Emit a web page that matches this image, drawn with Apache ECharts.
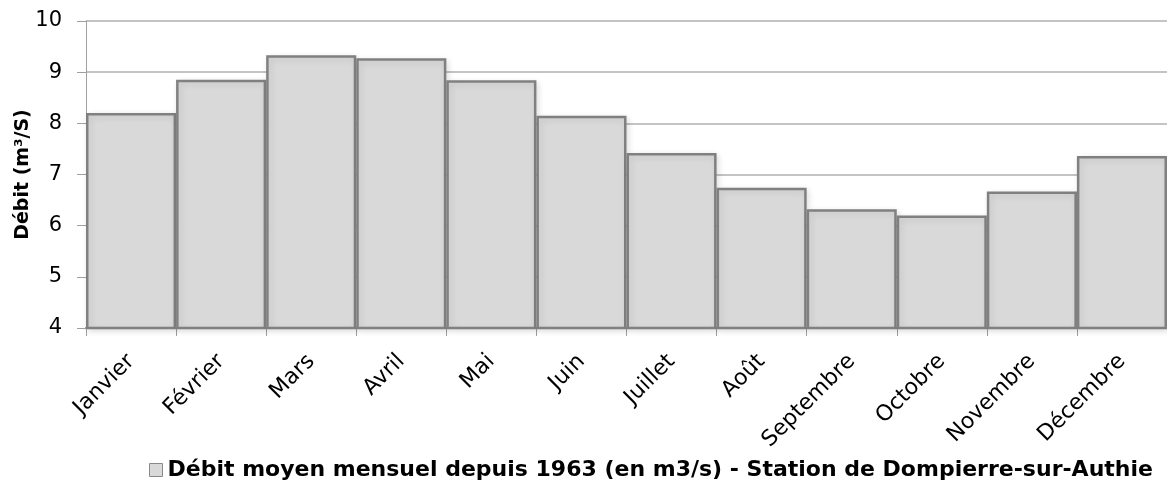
<!DOCTYPE html>
<html>
<head>
<meta charset="utf-8">
<script src="https://cdn.jsdelivr.net/npm/echarts@6/dist/echarts.min.js"></script>
<style>
  html, body { margin: 0; padding: 0; background: #fff; }
  #chart { width: 1167px; height: 490px; }
</style>
</head>
<body>
<div id="chart"></div>
<script>
// Débit moyen mensuel de l'Authie à Dompierre-sur-Authie (m3/s)
const months = ['Janvier', 'Février', 'Mars', 'Avril', 'Mai', 'Juin',
  'Juillet', 'Août', 'Septembre', 'Octobre', 'Novembre', 'Décembre'];
const debit = [8.20, 8.85, 9.33, 9.27, 8.84, 8.15, 7.42, 6.74, 6.32, 6.20, 6.67, 7.36];
const yTicks = { min: 4, max: 10, interval: 1 };
const seriesName = 'Débit moyen mensuel depuis 1963 (en m3/s) - Station de Dompierre-sur-Authie';

const font = '"DejaVu Sans", "Open Sans", sans-serif';
const chart = echarts.init(document.getElementById('chart'), null, { renderer: 'canvas' });

chart.setOption({
  animation: false,
  backgroundColor: '#fff',
  textStyle: { fontFamily: font, color: '#000' },
  grid: { left: 86, right: 0, top: 21, bottom: 162, containLabel: false, outerBoundsMode: 'none' },
  legend: {
    bottom: 4,
    left: 144,
    itemWidth: 13,
    itemHeight: 13,
    itemGap: 4,
    data: [{ name: seriesName, icon: 'rect' }],
    itemStyle: { borderColor: '#8a8a8a', borderWidth: 1 },
    textStyle: { fontFamily: font, fontSize: 22, fontWeight: 'bold', color: '#000' },
  },
  xAxis: {
    type: 'category',
    data: months,
    axisLine: { lineStyle: { color: '#868686', width: 2 } },
    axisTick: { show: true, alignWithLabel: false, length: 8, lineStyle: { color: '#a0a0a0' } },
    axisLabel: { rotate: 45, fontSize: 22, color: '#000', margin: 30, fontFamily: font },
  },
  yAxis: {
    type: 'value',
    min: yTicks.min,
    max: yTicks.max,
    interval: yTicks.interval,
    name: 'Débit (m³/S)',
    nameLocation: 'middle',
    nameGap: 53,
    nameMoveOverlap: false,
    nameTextStyle: { fontSize: 19, fontWeight: 'bold', color: '#000', fontFamily: font },
    axisLine: { show: true, lineStyle: { color: '#a0a0a0' } },
    axisTick: { show: true, length: 9, lineStyle: { color: '#a0a0a0' } },
    axisLabel: { fontSize: 21, color: '#000', margin: 24, fontFamily: font },
    splitLine: { lineStyle: { color: '#b0b0b0', width: 1.5 } },
  },
  series: [{
    name: seriesName,
    type: 'bar',
    data: debit,
    barCategoryGap: '0%',
    itemStyle: {
      color: '#d9d9d9',
      borderColor: '#808080',
      borderWidth: 2.5,
      shadowColor: 'rgba(0,0,0,0.12)',
      shadowBlur: 6,
      shadowOffsetX: 2,
      shadowOffsetY: 2,
    },
  }],
});
</script>
</body>
</html>
